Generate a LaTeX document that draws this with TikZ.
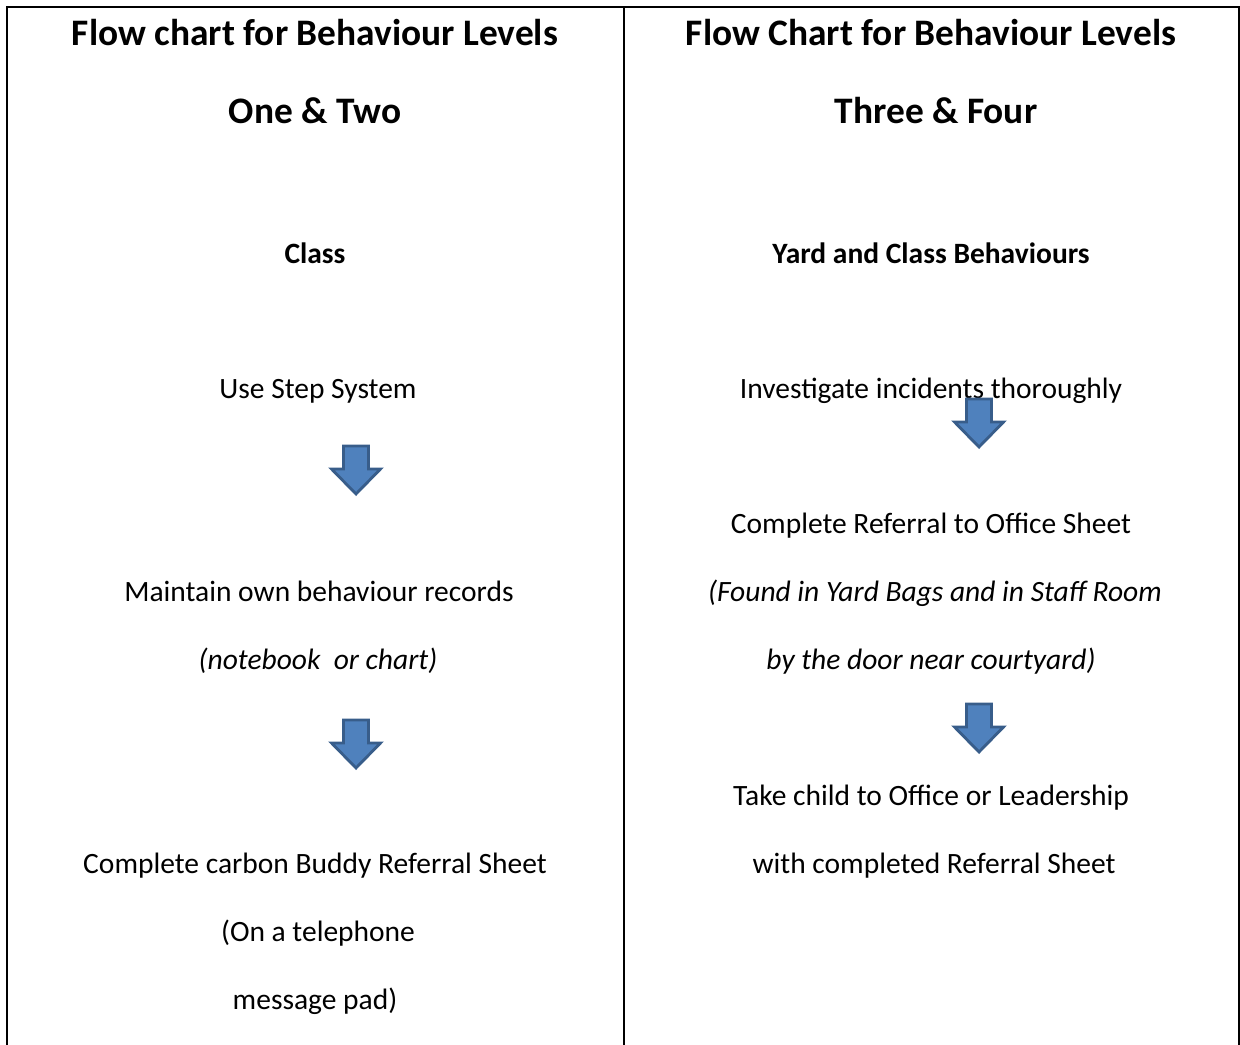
\documentclass[tikz,border=0pt]{standalone}
\usepackage{fontspec}
\setmainfont{Carlito}
\definecolor{arrowfill}{HTML}{4F81BD}
\definecolor{arrowline}{HTML}{385D8A}
\tikzset{
  title/.style={anchor=base,font=\fontsize{18.7}{22}\selectfont\bfseries},
  head/.style={anchor=base,font=\fontsize{14.75}{18}\selectfont\bfseries},
  body/.style={anchor=base,font=\fontsize{14.75}{18}\selectfont},
  note/.style={anchor=base,font=\fontsize{14.75}{18}\selectfont\itshape},
  blockarrow/.style={line width=1.4pt,draw=arrowline,fill=arrowfill,line join=miter}
}
\begin{document}
\begin{tikzpicture}[x=0.5pt,y=-0.5pt,line cap=rect]
\useasboundingbox (0,0) rectangle (1240,1044);
% table lines
\draw[line width=1pt] (7,1044)--(7,7)--(1239,7)--(1239,1044) (624,7)--(624,1044);
% left column
\node[title] (tA) at (315,45) {Flow chart for Behaviour Levels};
\node[title] (tB) at (315,123) {One \& Two};
\node[head] (cls) at (315,263) {Class};
\node[body] (step) at (318,398) {Use Step System};
\node[body] (rec) at (319,601) {Maintain own behaviour records};
\node[note] (nb) at (318,669) {(notebook \ or chart)};
\node[body] (buddy) at (315,873) {Complete carbon Buddy Referral Sheet};
\node[body] (tel) at (318,941) {(On a telephone};
\node[body] (pad) at (315,1009) {message pad)};
% right column
\node[title] (tC) at (931,45) {Flow Chart for Behaviour Levels};
\node[title] (tD) at (936,123) {Three \& Four};
\node[head] (yard) at (931,263) {Yard and Class Behaviours};
\node[body] (inv) at (931,398) {Investigate incidents thoroughly};
\node[body] (ref) at (931,533) {Complete Referral to Office Sheet};
\node[note] (bags) at (935,601) {(Found in Yard Bags and in Staff Room};
\node[note] (door) at (931,669) {by the door near courtyard)};
\node[body] (take) at (931,805) {Take child to Office or Leadership};
\node[body] (with) at (934,873) {with completed Referral Sheet};
% block arrows (top centre)
\foreach \ax/\ay in {356/446, 356/720, 979/399, 979/704}
  \draw[blockarrow] (\ax,\ay) ++(-12.5,0) -- ++(25,0) -- ++(0,23) -- ++(12,0)
    -- ++(-24.5,25) -- ++(-24.5,-25) -- ++(12,0) -- cycle;
\end{tikzpicture}
\end{document}
